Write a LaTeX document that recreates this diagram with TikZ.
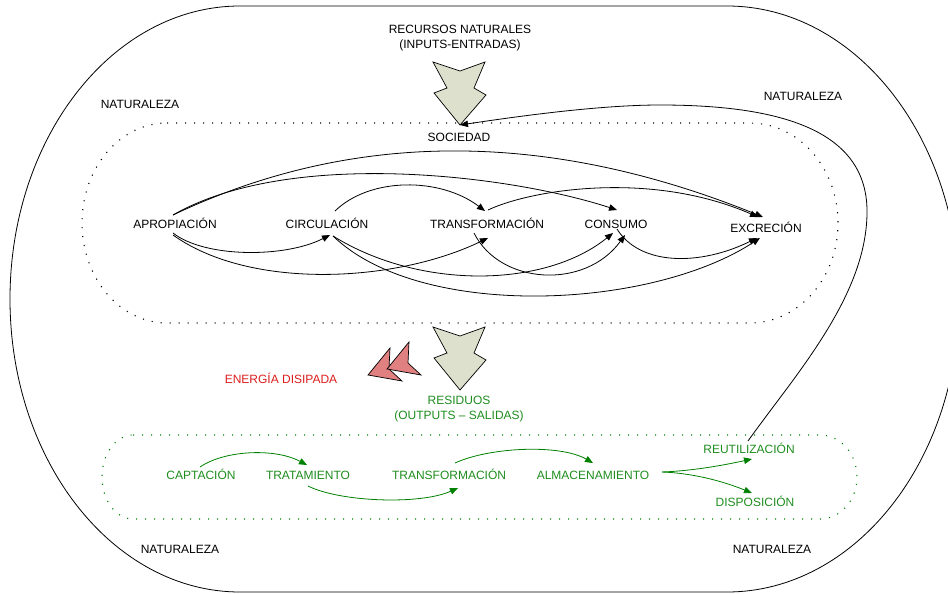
\documentclass[tikz,border=0pt]{standalone}
\usepackage{fontspec}
\setmainfont{Liberation Sans}
\usetikzlibrary{arrows.meta,calc}
\definecolor{inkgreen}{RGB}{0,128,0}
\definecolor{txtgreen}{RGB}{30,140,30}
\definecolor{txtred}{RGB}{220,30,30}
\definecolor{flowgray}{RGB}{221,224,204}
\definecolor{heatred}{RGB}{224,128,128}

\tikzset{
  % barbed downward flow arrow, drawn from its tip
  downflow/.pic={
    \draw[fill=flowgray, line width=0.7pt]
      (0,0) -- (-26,-32) -- (-13,-37) -- (-27,-63) -- (0,-54)
      -- (25,-63) -- (14,-37) -- (26,-30) -- cycle;
  },
  % small arrowhead for dissipated energy, drawn from its tip
  heatflow/.pic={
    \draw[fill=heatred, line width=0.7pt]
      (0,0) -- (22,-27) -- (21,-6) -- (34,6) -- cycle;
  }
}

\begin{document}
\begin{tikzpicture}[x=1pt,y=-1pt,
  lbl/.style={inner sep=0pt, text height=8.6pt, text depth=0pt,
    font=\fontsize{12}{15}\selectfont},
  twoline/.style={inner sep=0pt, align=center, anchor=north,
    font=\fontsize{12}{15}\selectfont},
  glbl/.style={lbl, text=txtgreen},
  flow/.style={-{Triangle[length=8pt,width=6.5pt]}, line width=0.8pt},
  gflow/.style={flow, draw=inkgreen},
  dotline/.style={line width=1.1pt, dash pattern=on 1.1pt off 7.9pt},
]
\path[use as bounding box] (0,0) rectangle (948,594);

% nature boundary
\draw[line width=0.8pt] (240,6) -- (727,6)
  arc[start angle=-90, end angle=90, x radius=232, y radius=293]
  -- (240,592)
  arc[start angle=90, end angle=270, x radius=230, y radius=293] -- cycle;

% society boundary
\draw[dotline] (167,123) -- (750,123)
  arc[start angle=-90, end angle=90, x radius=88, y radius=100]
  -- (167,323)
  arc[start angle=90, end angle=270, x radius=85, y radius=100] -- cycle;

% waste handling boundary
\draw[dotline, inkgreen] (133,435) -- (820,435)
  arc[start angle=-90, end angle=90, x radius=37, y radius=42]
  -- (133,519)
  arc[start angle=90, end angle=270, x radius=31, y radius=42] -- cycle;

% big flow arrows
\coordinate (intip) at (460,125);
\coordinate (outtip) at (460,390);
\pic at (intip) {downflow};
\pic at (outtip) {downflow};

% dissipated energy
\pic at (368,375) {heatflow};
\pic at (387,369) {heatflow};

% labels
\node[twoline] (rec) at (460,24.7) {RECURSOS NATURALES\\(INPUTS-ENTRADAS)};
\node[lbl] (nat1) at (140,104) {NATURALEZA};
\node[lbl] (nat2) at (803,96) {NATURALEZA};
\node[lbl] (nat3) at (180,549) {NATURALEZA};
\node[lbl] (nat4) at (772,549) {NATURALEZA};
\node[lbl] (soc) at (459,137) {SOCIEDAD};

\node[lbl] (apro) at (175,224) {APROPIACIÓN};
\node[lbl] (circ) at (327,224) {CIRCULACIÓN};
\node[lbl] (trans) at (487,224) {TRANSFORMACIÓN};
\node[lbl] (cons) at (616,224) {CONSUMO};
\node[lbl] (excr) at (766,228) {EXCRECIÓN};

\node[lbl, text=txtred] (ener) at (281,379) {ENERGÍA DISIPADA};
\node[twoline, text=txtgreen] (res) at (459,395.7) {RESIDUOS\\(OUTPUTS – SALIDAS)};

\node[glbl] (capt) at (201,475) {CAPTACIÓN};
\node[glbl] (trat) at (308,475) {TRATAMIENTO};
\node[glbl] (tg) at (449,475) {TRANSFORMACIÓN};
\node[glbl] (alm) at (593,475) {ALMACENAMIENTO};
\node[glbl] (reut) at (749,449) {REUTILIZACIÓN};
\node[glbl] (disp) at (755,502) {DISPOSICIÓN};

% flows inside society
\draw[flow] ($(apro)+(-2,-9)$) .. controls (373,120) and (573,140) .. ($(excr)+(-3,-11)$);
\draw[flow] ($(apro)+(-2,-9)$) .. controls (290,148) and (510,175) .. ($(cons)+(1,-14)$);
\draw[flow] ($(apro)+(-2,9)$) .. controls (205,258) and (285,258) .. ($(circ)+(3,11)$);
\draw[flow] ($(apro)+(-2,11)$) .. controls (250,290) and (395,283) .. ($(trans)+(1,14)$);
\draw[flow] ($(circ)+(8,-13)$) .. controls (370,177) and (440,177) .. ($(trans)+(-2,-13)$);
\draw[flow] ($(circ)+(6,12)$) .. controls (420,290) and (545,288) .. ($(cons)+(-3,9)$);
\draw[flow] ($(circ)+(6,12)$) .. controls (420,320) and (650,310) .. ($(excr)+(-6,10)$);
\draw[flow] ($(trans)+(1,-14)$) .. controls (530,190) and (650,170) .. ($(excr)+(-8,-11)$);
\draw[flow] ($(trans)+(-13,9)$) .. controls (500,285) and (585,290) .. ($(cons)+(9,11)$);
\draw[flow] ($(cons)+(1,5)$) .. controls (640,266) and (700,266) .. ($(excr)+(-9,10)$);

% waste handling chain
\draw[gflow] ($(capt)+(-1,-8)$) .. controls (225,450) and (275,448) .. ($(trat)+(-1,-10)$);
\draw[gflow] ($(trat)+(0,11)$) .. controls (340,502) and (420,505) .. ($(tg)+(9,13)$);
\draw[gflow] ($(tg)+(6,-12)$) .. controls (490,447) and (560,444) .. ($(alm)+(0,-12)$);
\draw[gflow] ($(alm)+(69,-3)$) .. controls (690,471) and (720,466) .. ($(reut)+(3,10)$);
\draw[gflow] ($(alm)+(69,-3)$) .. controls (690,473) and (720,480) .. ($(disp)+(-3,-9)$);

% reuse returns to society
\draw[flow] ($(reut)+(-1,-8)$) .. controls (795,375) and (868,295) .. (867,210)
  .. controls (866,130) and (780,105) .. (660,105)
  .. controls (600,105) and (520,116) .. (intip);
\end{tikzpicture}
\end{document}
